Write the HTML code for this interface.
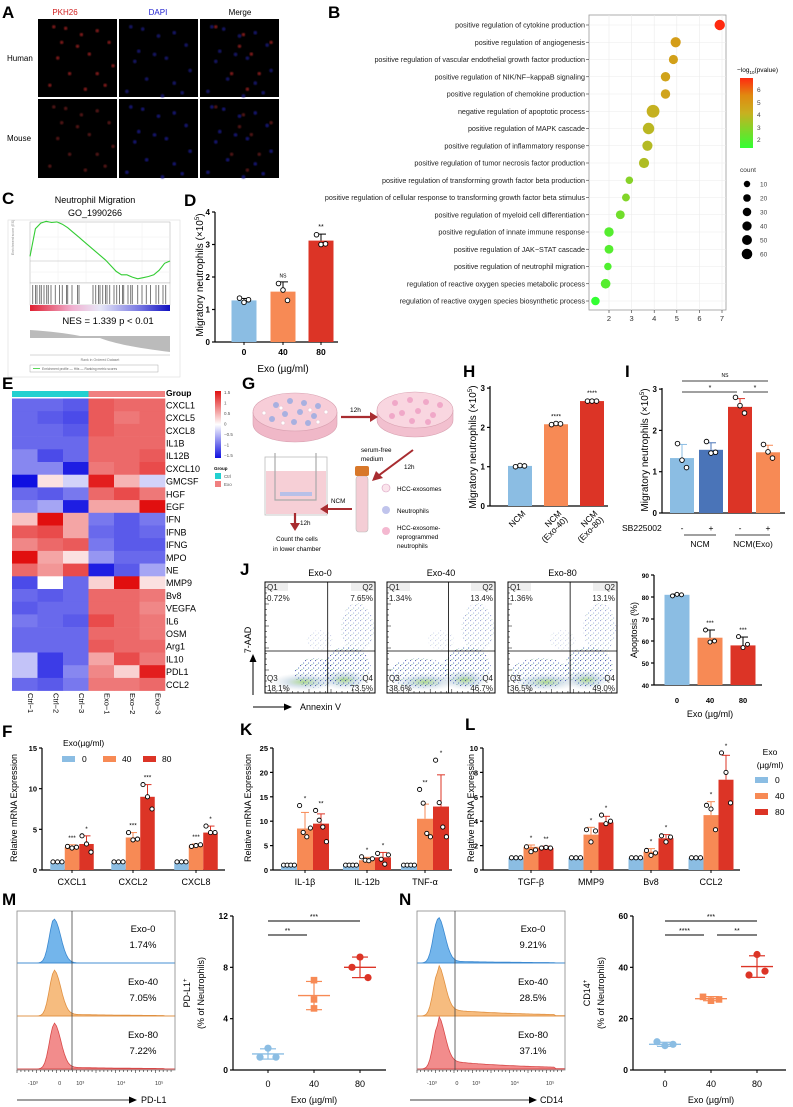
<!DOCTYPE html>
<html><head><meta charset="utf-8"><style>
html,body{margin:0;padding:0;background:#fff}
svg{display:block;font-family:"Liberation Sans",Arial,sans-serif}
</style></head><body>
<svg id="fig" width="793" height="1107" viewBox="0 0 793 1107" xmlns="http://www.w3.org/2000/svg">
<defs>
<linearGradient id="pgrad" x1="0" y1="1" x2="0" y2="0"><stop offset="0" stop-color="#33ff33"/><stop offset="0.5" stop-color="#c8b020"/><stop offset="0.75" stop-color="#e08a10"/><stop offset="1" stop-color="#ff2a10"/></linearGradient>
<linearGradient id="hgrad" x1="0" y1="1" x2="0" y2="0"><stop offset="0" stop-color="#1010e0"/><stop offset="0.5" stop-color="#ffffff"/><stop offset="1" stop-color="#e01010"/></linearGradient>
<linearGradient id="strip" x1="0" x2="1"><stop offset="0" stop-color="#e02030"/><stop offset="0.3" stop-color="#f0b0d0"/><stop offset="0.5" stop-color="#e8e8f8"/><stop offset="0.8" stop-color="#7070e0"/><stop offset="1" stop-color="#1010c0"/></linearGradient>
<pattern id="dots" width="5" height="5" patternUnits="userSpaceOnUse"><rect x="0" y="0" width="1.1" height="1.1" fill="#1a2a9a"/><rect x="3" y="2.5" width="1.1" height="1.1" fill="#2a5ab0"/><rect x="1.5" y="4" width="0.9" height="0.9" fill="#3a8a60"/></pattern>
<radialGradient id="cloud"><stop offset="0" stop-color="#9ad070" stop-opacity="0.8"/><stop offset="0.5" stop-color="#b0c8d8" stop-opacity="0.5"/><stop offset="1" stop-color="#d0d8e0" stop-opacity="0"/></radialGradient>
<radialGradient id="fade"><stop offset="0" stop-color="#fff" stop-opacity="1"/><stop offset="0.7" stop-color="#fff" stop-opacity="0.8"/><stop offset="1" stop-color="#fff" stop-opacity="0"/></radialGradient>
<mask id="cloudmask"><rect x="0" y="0" width="793" height="1107" fill="#000"/></mask>
<filter id="glow"><feGaussianBlur stdDeviation="0.8"/></filter>
</defs>

<g font-weight="bold" font-size="17" fill="#000">
<text x="2" y="18">A</text>
<text x="328" y="18">B</text>
<text x="2" y="204">C</text>
<text x="184" y="206">D</text>
<text x="2" y="389">E</text>
<text x="242" y="389">G</text>
<text x="463" y="377">H</text>
<text x="625" y="377">I</text>
<text x="240" y="575">J</text>
<text x="2" y="737">F</text>
<text x="240" y="735">K</text>
<text x="465" y="730">L</text>
<text x="2" y="905">M</text>
<text x="399" y="905">N</text>
</g>

<g id="panelA">
<text x="65" y="15" font-size="8" fill="#d02020" text-anchor="middle">PKH26</text>
<text x="158" y="15" font-size="8" fill="#2020d0" text-anchor="middle">DAPI</text>
<text x="240" y="15" font-size="8" fill="#000" text-anchor="middle">Merge</text>
<text x="7" y="61" font-size="8">Human</text>
<text x="7" y="141" font-size="8">Mouse</text>
</g>

<g font-size="6.5">
<text x="737" y="72">−log<tspan font-size="4.5" dy="2">10</tspan><tspan dy="-2">(pvalue)</tspan></text>
<rect x="740" y="78" width="13" height="70" fill="url(#pgrad)"/>
<text x="757" y="92" fill="#444">6</text><text x="757" y="105" fill="#444">5</text><text x="757" y="117" fill="#444">4</text><text x="757" y="130" fill="#444">3</text><text x="757" y="142" fill="#444">2</text>
<text x="740" y="172" fill="#333">count</text>
</g>

<g>
<text x="95" y="203" font-size="9" text-anchor="middle">Neutrophil Migration</text>
<text x="95" y="216" font-size="9" text-anchor="middle">GO_1990266</text>
<rect x="8" y="220" width="172" height="157" fill="#fff" stroke="#ddd" stroke-width="0.6"/>
<rect x="30" y="222" width="140" height="61" fill="#fff" stroke="#aaa" stroke-width="0.5"/>
<g stroke="#eee" stroke-width="0.5"><line x1="30" y1="237" x2="170" y2="237"/><line x1="30" y1="249" x2="170" y2="249"/><line x1="30" y1="272" x2="170" y2="272"/><line x1="58" y1="222" x2="58" y2="283"/><line x1="86" y1="222" x2="86" y2="283"/><line x1="114" y1="222" x2="114" y2="283"/><line x1="142" y1="222" x2="142" y2="283"/></g>
<line x1="30" y1="261" x2="170" y2="261" stroke="#bbb" stroke-width="0.5"/>
<text x="14" y="255" font-size="3.5" fill="#888" transform="rotate(-90 14 255)">Enrichment score (ES)</text>
<rect x="30" y="283" width="140" height="22" fill="#fff" stroke="#aaa" stroke-width="0.4"/>
<rect x="30" y="305" width="140" height="6" fill="url(#strip)"/>
<text x="108" y="324" font-size="9.5" text-anchor="middle">NES = 1.339  p &lt; 0.01</text>
<path d="M30 326 L30 330 Q60 332 80 336 L170 336 L170 352 Q120 346 100 338 L30 338 Z" fill="#bbb"/>
<line x1="30" y1="355" x2="170" y2="355" stroke="#999" stroke-width="0.4"/>
<text x="100" y="361" font-size="3.5" fill="#777" text-anchor="middle">Rank in Ordered Dataset</text>
<rect x="30" y="365" width="128" height="7" fill="none" stroke="#999" stroke-width="0.4"/>
<line x1="33" y1="368.5" x2="40" y2="368.5" stroke="#33cc33" stroke-width="0.8"/>
<text x="42" y="370" font-size="3.3" fill="#666">Enrichment profile — Hits    — Ranking metric scores</text>
</g>

<g>
<text x="203" y="275" font-size="10" text-anchor="middle" transform="rotate(-90 203 275)">Migratory neutrophils (×10<tspan font-size="6" dy="-4">5</tspan><tspan dy="4">)</tspan></text>
<text x="283" y="372" font-size="10" text-anchor="middle">Exo (µg/ml)</text>
</g>

<g>
<path d="M253 412 L253 424 A42 18 0 0 0 337 424 L337 412" fill="#f0b8c8" stroke="#d8a0b0" stroke-width="0.6"/>
<ellipse cx="295" cy="412" rx="42" ry="19" fill="#f7cdd8" stroke="#d8a0b0" stroke-width="0.6"/>
<g fill="#a8b0e0"><circle cx="276" cy="405" r="3"/><circle cx="290" cy="401" r="3"/><circle cx="304" cy="403" r="3"/><circle cx="318" cy="406" r="3"/><circle cx="285" cy="414" r="3"/><circle cx="300" cy="412" r="3"/><circle cx="314" cy="416" r="3"/><circle cx="272" cy="419" r="3"/><circle cx="294" cy="422" r="3"/><circle cx="308" cy="423" r="3"/></g>
<g fill="#fff" stroke="#e0b0c0" stroke-width="0.4"><circle cx="264" cy="413" r="2"/><circle cx="281" cy="408" r="2"/><circle cx="310" cy="410" r="2"/><circle cx="326" cy="412" r="2"/><circle cx="283" cy="423" r="2"/><circle cx="318" cy="422" r="2"/></g>
<path d="M377 410 L377 420 A38 17 0 0 0 453 420 L453 410" fill="#f2c0cf" stroke="#d8a0b0" stroke-width="0.6"/>
<ellipse cx="415" cy="410" rx="38" ry="18" fill="#f9d6e0" stroke="#d8a0b0" stroke-width="0.6"/>
<g fill="#f0a8c8"><circle cx="395" cy="403" r="3"/><circle cx="410" cy="400" r="3"/><circle cx="426" cy="402" r="3"/><circle cx="440" cy="405" r="3"/><circle cx="402" cy="413" r="3"/><circle cx="418" cy="411" r="3"/><circle cx="433" cy="415" r="3"/><circle cx="392" cy="416" r="3"/><circle cx="412" cy="421" r="3"/><circle cx="428" cy="422" r="3"/></g>
<line x1="341" y1="417" x2="372" y2="417" stroke="#a82c30" stroke-width="2.2"/><path d="M378 417 L370 412 L370 422 Z" fill="#a82c30"/>
<text x="350" y="412" font-size="6.5">12h</text>
<rect x="265" y="457" width="62" height="58" fill="#fff" stroke="#bbb" stroke-width="0.8"/>
<rect x="266" y="471" width="60" height="43" fill="#f6cfd6"/>
<path d="M275 453 L275 500 L316 500 L316 453" fill="none" stroke="#aaa" stroke-width="1.2"/>
<rect x="280" y="492" width="32" height="4" fill="#b8c0e8"/>
<rect x="356" y="476" width="12" height="56" rx="3" fill="#f4cdd5" stroke="#bbb" stroke-width="0.6"/>
<rect x="355" y="466" width="14" height="10" rx="2" fill="#d8782a"/>
<line x1="413" y1="450" x2="378" y2="476" stroke="#a82c30" stroke-width="2"/><path d="M372 481 L376 471 L383 478 Z" fill="#a82c30"/>
<text x="361" y="452" font-size="6.3">serum-free</text><text x="361" y="461" font-size="6.3">medium</text>
<text x="404" y="469" font-size="6.3">12h</text>
<line x1="352" y1="509" x2="326" y2="509" stroke="#a82c30" stroke-width="2"/><path d="M320 509 L328 504 L328 514 Z" fill="#a82c30"/>
<text x="331" y="503" font-size="6.3">NCM</text>
<line x1="295" y1="513" x2="295" y2="526" stroke="#a82c30" stroke-width="2.2"/><path d="M295 531 L290 523 L300 523 Z" fill="#a82c30"/>
<text x="300" y="525" font-size="6.3">12h</text>
<text x="297" y="541" font-size="6.3" text-anchor="middle">Count the cells</text>
<text x="297" y="551" font-size="6.3" text-anchor="middle">in lower chamber</text>
<circle cx="386" cy="488" r="4" fill="#fbe4ec" stroke="#d8a0c0" stroke-width="0.6"/><text x="397" y="491" font-size="6.3">HCC-exosomes</text>
<circle cx="386" cy="510" r="4" fill="#c0c4ec"/><text x="397" y="513" font-size="6.3">Neutrophils</text>
<circle cx="386" cy="531" r="4" fill="#f4b8d0"/><text x="397" y="530" font-size="6.3">HCC-exosome-</text><text x="397" y="539" font-size="6.3">reprogrammed</text><text x="397" y="548" font-size="6.3">neutrophils</text>
</g>

<text x="476" y="447" font-size="10" text-anchor="middle" transform="rotate(-90 476 447)">Migratory neutrophils (×10<tspan font-size="6" dy="-4">5</tspan><tspan dy="4">)</tspan></text>
<text x="648" y="450" font-size="10" text-anchor="middle" transform="rotate(-90 648 450)">Migratory neutrophils (×10<tspan font-size="6" dy="-4">5</tspan><tspan dy="4">)</tspan></text>
<g font-size="8.5">
<text x="622" y="531">SB225002</text>
<text x="682" y="531" text-anchor="middle">-</text><text x="711" y="531" text-anchor="middle">+</text><text x="740" y="531" text-anchor="middle">-</text><text x="768" y="531" text-anchor="middle">+</text>
<line x1="684" y1="535" x2="716" y2="535" stroke="#000" stroke-width="0.8"/><line x1="735" y1="535" x2="770" y2="535" stroke="#000" stroke-width="0.8"/>
<text x="700" y="547" text-anchor="middle">NCM</text><text x="753" y="547" text-anchor="middle">NCM(Exo)</text>
</g>

<g>
<line x1="253" y1="695" x2="253" y2="660" stroke="#000" stroke-width="1"/><path d="M253 654 L249.5 662 L256.5 662 Z"/>
<text x="251" y="640" font-size="9" text-anchor="middle" transform="rotate(-90 251 640)">7-AAD</text>
<line x1="253" y1="707" x2="285" y2="707" stroke="#000" stroke-width="1"/><path d="M292 707 L284 703.5 L284 710.5 Z"/>
<text x="300" y="710" font-size="9">Annexin V</text>
<text x="637" y="630" font-size="9" text-anchor="middle" transform="rotate(-90 637 630)">Apoptosis (%)</text>
<text x="710" y="717" font-size="9" text-anchor="middle">Exo (µg/ml)</text>
</g>

<text x="17" y="808" font-size="9" text-anchor="middle" transform="rotate(-90 17 808)">Relative mRNA Expression</text>
<text x="251" y="808" font-size="9" text-anchor="middle" transform="rotate(-90 251 808)">Relative mRNA Expression</text>
<text x="474" y="808" font-size="9" text-anchor="middle" transform="rotate(-90 474 808)">Relative mRNA Expression</text>
<g font-size="8.5">
<text x="63" y="746">Exo(µg/ml)</text>
<rect x="62" y="756" width="13" height="6" fill="#8bbde3"/><text x="82" y="762">0</text>
<rect x="103" y="756" width="13" height="6" fill="#f78a55"/><text x="122" y="762">40</text>
<rect x="143" y="756" width="13" height="6" fill="#dc3426"/><text x="162" y="762">80</text>
</g>
<g font-size="8.5">
<text x="770" y="755" text-anchor="middle">Exo</text><text x="770" y="768" text-anchor="middle">(µg/ml)</text>
<rect x="755" y="777" width="13" height="6" fill="#8bbde3"/><text x="775" y="783">0</text>
<rect x="755" y="793" width="13" height="6" fill="#f78a55"/><text x="775" y="799">40</text>
<rect x="755" y="809" width="13" height="6" fill="#dc3426"/><text x="775" y="815">80</text>
</g>

<text x="190" y="993" font-size="9" text-anchor="middle" transform="rotate(-90 190 993)">PD-L1<tspan font-size="6" dy="-3">+</tspan></text>
<text x="204" y="993" font-size="9" text-anchor="middle" transform="rotate(-90 204 993)">(% of Neutrophils)</text>
<text x="314" y="1103" font-size="9" text-anchor="middle">Exo (µg/ml)</text>
<text x="590" y="993" font-size="9" text-anchor="middle" transform="rotate(-90 590 993)">CD14<tspan font-size="6" dy="-3">+</tspan></text>
<text x="604" y="993" font-size="9" text-anchor="middle" transform="rotate(-90 604 993)">(% of Neutrophils)</text>
<text x="711" y="1103" font-size="9" text-anchor="middle">Exo (µg/ml)</text>
<line x1="17" y1="1100" x2="130" y2="1100" stroke="#000" stroke-width="0.8"/><path d="M137 1100 L129 1096.5 L129 1103.5 Z"/>
<text x="141" y="1103" font-size="9">PD-L1</text>
<line x1="410" y1="1100" x2="530" y2="1100" stroke="#000" stroke-width="0.8"/><path d="M537 1100 L529 1096.5 L529 1103.5 Z"/>
<text x="540" y="1103" font-size="9">CD14</text>
</svg>

<script>
const bTerms=["positive regulation of cytokine production","positive regulation of angiogenesis","positive regulation of vascular endothelial growth factor production","positive regulation of NIK/NF−kappaB signaling","positive regulation of chemokine production","negative regulation of apoptotic process","positive regulation of MAPK cascade","positive regulation of inflammatory response","positive regulation of tumor necrosis factor production","positive regulation of transforming growth factor beta production","positive regulation of cellular response to transforming growth factor beta stimulus","positive regulation of myeloid cell differentiation","positive regulation of innate immune response","positive regulation of JAK−STAT cascade","positive regulation of neutrophil migration","regulation of reactive oxygen species metabolic process","regulation of reactive oxygen species biosynthetic process"];
const bX=[6.9,4.95,4.85,4.5,4.5,3.95,3.75,3.7,3.55,2.9,2.75,2.5,2.0,2.0,1.95,1.85,1.4];
const bLogP=[6.8,4.8,4.7,4.6,4.6,4.1,3.9,3.8,3.7,3.0,2.9,2.6,2.1,2.1,2.0,2.1,1.5];
const bCount=[30,28,20,22,22,55,40,28,28,10,12,18,22,18,10,24,16];
const bXTicks=[2,3,4,5,6,7];
const bCountLegend=[10,20,30,40,50,60];

const gseaES=[0.04,0.28,0.33,0.345,0.335,0.34,0.32,0.29,0.25,0.21,0.17,0.13,0.09,0.05,0.01,-0.04,-0.09,-0.12,-0.12,-0.14,-0.155,-0.145,-0.135,-0.12,-0.08,-0.02,0.0];
const gseaHits=[0.02,0.04,0.05,0.07,0.08,0.1,0.12,0.13,0.15,0.18,0.21,0.23,0.26,0.27,0.3,0.34,0.35,0.45,0.47,0.49,0.5,0.52,0.54,0.55,0.57,0.6,0.62,0.64,0.66,0.67,0.7,0.72,0.73,0.77,0.8,0.83,0.86,0.9,0.92,0.95,0.97];

const dCats=["0","40","80"];
const dMeans=[1.28,1.55,3.12];
const dSD=[0.06,0.3,0.2];
const dPts=[[1.35,1.22,1.3],[1.8,1.6,1.28],[3.3,3.0,3.02]];
const dStars=["","NS","**"];

const heatGenes=["CXCL1","CXCL5","CXCL8","IL1B","IL12B","CXCL10","GMCSF","HGF","EGF","IFN","IFNB","IFNG","MPO","NE","MMP9","Bv8","VEGFA","IL6","OSM","Arg1","IL10","PDL1","CCL2"];
const heatSamples=["Ctrl−1","Ctrl−2","Ctrl−3","Exo−1","Exo−2","Exo−3"];
const heatVals=[[-1,-1,-1.1,1.1,1.0,1.0],[-1,-1.1,-1.2,1.1,0.9,1.0],[-1,-1,-1.1,1.1,1.0,1.0],[-1,-1,-1,1.0,1.0,1.0],[-0.8,-1.2,-1,1.0,1.0,1.1],[-0.8,-0.8,-1.5,0.9,1.0,1.2],[-1.6,0.2,-0.3,1.5,0.5,-0.3],[-1,-1.1,-0.9,1.0,1.2,0.9],[-0.8,-0.6,-1.5,0.6,0.6,1.6],[0.4,1.6,0.6,-0.9,-1.1,-0.9],[1.1,1.2,0.6,-1,-1.1,-1],[0.8,1.0,1.1,-0.9,-1.1,-1.1],[1.6,0.6,0.2,-0.7,-1,-1],[1.0,0.7,1.2,-1.5,-1.1,-0.6],[-1.2,0,-1,0.3,1.6,0.2],[-1,-1.1,-1,1.0,1.0,0.9],[-1.1,-1,-1,1.0,1.0,0.8],[-0.9,-1,-1.1,1.2,1.0,0.9],[-1,-1,-1,1.0,1.0,0.9],[-1,-1,-1,1.1,1.0,1.0],[-0.4,-1.3,-1,0.6,1.2,0.9],[-0.4,-1.3,-0.8,0.8,0.3,1.5],[-1,-1.1,-0.9,0.9,0.9,1.0]];
const heatLegendTicks=[1.5,1,0.5,0,-0.5,-1,-1.5];

const hCats=["NCM","NCM (Exo-40)","NCM (Exo-80)"];
const hMeans=[1.02,2.08,2.67];
const hPts=[[1.0,1.03,1.02],[2.07,2.1,2.09],[2.67,2.67,2.67]];
const hStars=["","****","****"];

const iMeans=[1.33,1.53,2.57,1.47];
const iSD=[0.33,0.17,0.2,0.17];
const iPts=[[1.68,1.28,1.1],[1.73,1.45,1.47],[2.8,2.6,2.42],[1.66,1.48,1.33]];

const jQuads=[["0.72%","7.65%","18.1%","73.5%"],["1.34%","13.4%","38.6%","46.7%"],["1.36%","13.1%","36.5%","49.0%"]];
const jTitles=["Exo-0","Exo-40","Exo-80"];
const apoMeans=[81,61.5,58];
const apoSD=[0.3,3.5,3.8];
const apoPts=[[80.5,81.2,81],[65,59.5,60],[62,57,58.5]];
const apoStars=["","***","***"];

const fGenes=["CXCL1","CXCL2","CXCL8"];
const fMeans=[[1,2.8,3.2],[1,4.0,9.0],[1,3.0,4.6]];
const fSD=[[0.05,0.3,1.0],[0.05,0.6,1.5],[0.05,0.2,0.8]];
const fPts=[[[1,1,1],[2.9,2.7,2.8],[4.2,3.2,2.2]],[[1,1,1],[4.6,3.7,3.8],[10.5,9.0,7.5]],[[1,1,1],[2.9,3.0,3.1],[5.4,4.6,4.6]]];
const fStars=[["","***","*"],["","***","***"],["","***","*"]];

const kGenes=["IL-1β","IL-12b","TNF-α"];
const kMeans=[[1,8.5,9.5],[1,2.0,2.6],[1,10.5,13]];
const kSD=[[0.05,3.3,2.0],[0.05,0.6,1.0],[0.05,3.0,6.5]];
const kPts=[[[1,1,1,1],[13.2,7.7,6.8,8.6],[12.2,10.2,8.8,5.8]],[[1,1,1,1],[2.7,2.0,1.9,2.3],[3.4,2.2,1.2,3.1]],[[1,1,1,1],[16.5,13.7,7.5,6.8],[22.5,13.8,8.8,6.8]]];
const kStars=[["","*","**"],["","*","*"],["","**","*"]];

const lGenes=["TGF-β","MMP9","Bv8","CCL2"];
const lMeans=[[1,1.9,1.8],[1,2.9,3.9],[1,1.5,2.6],[1,4.5,7.4]];
const lSD=[[0.05,0.15,0.15],[0.05,0.6,0.5],[0.05,0.25,0.3],[0.05,1.1,2.0]];
const lPts=[[[1,1,1],[1.9,1.5,1.65],[1.8,1.85,1.8]],[[1,1,1],[3.3,2.3,3.2],[4.5,3.8,4.0]],[[1,1,1],[1.6,1.2,1.4],[2.8,2.3,2.7]],[[1,1,1],[5.3,5.0,3.3],[9.6,8.0,5.5]]];
const lStars=[["","*","**"],["","*","*"],["","*","*"],["","*","*"]];

const mLabels=["Exo-0","Exo-40","Exo-80"];
const mPct=["1.74%","7.05%","7.22%"];
const mVals=[[1.7,1.0,1.0],[7.0,5.5,4.8],[8.8,8.0,7.2]];
const mMeans=[1.25,5.8,8.0];
const mSD=[0.4,1.1,0.8];
const nPct=["9.21%","28.5%","37.1%"];
const nVals=[[9.5,11,10],[27,28.5,27.5],[45,37,38.5]];
const nMeans=[10,27.8,40.3];
const nSD=[0.8,0.8,4.2];

const NS='http://www.w3.org/2000/svg';
const svg=document.getElementById('fig');
function el(tag,a,p){const e=document.createElementNS(NS,tag);for(const k in a)e.setAttribute(k,a[k]);(p||svg).appendChild(e);return e;}
function tx(x,y,s,a,p){const e=el('text',Object.assign({x:x,y:y},a||{}),p);e.textContent=s;return e;}
const C0='#8bbde3',C40='#f78a55',C80='#dc3426',CDB='#4a74b8';

function yAxis(x,yTop,yBot,ticks,sc,fs,name){
  const g=el('g',{});
  
  
  el('line',{x1:x,y1:yTop,x2:x,y2:yBot,stroke:'#000','stroke-width':1.2},g);
  ticks.forEach(t=>{const y=sc(t);el('line',{x1:x-3,y1:y,x2:x,y2:y,stroke:'#000','stroke-width':1.2},g);
    const lab=tx(x-5,y+3,String(t),{'font-size':fs,'text-anchor':'end','font-weight':'bold'},g);
    
    });
  return g;
}
function errBar(x,yM,yT,col,w,p){el('line',{x1:x,y1:yM,x2:x,y2:yT,stroke:col,'stroke-width':1},p);el('line',{x1:x-w,y1:yT,x2:x+w,y2:yT,stroke:col,'stroke-width':1},p);}
function pts(x,vals,sc,fill,p,r){const n=vals.length;vals.forEach((v,i)=>{const c=el('circle',{cx:x+(i-(n-1)/2)*(n>3?3.6:4.5),cy:sc(v),r:r||2.3,fill:fill,stroke:'#000','stroke-width':0.9},p);
  
  });}

// A
const aCols=[[38,117],[119,198],[200,279]];
const aRows=[[19,97],[99,178]];
const aCells=[[0.15,0.1],[0.3,0.12],[0.5,0.2],[0.7,0.15],[0.85,0.3],[0.2,0.5],[0.6,0.45],[0.9,0.6],[0.35,0.7],[0.1,0.85],[0.55,0.9],[0.8,0.85],[0.45,0.35],[0.25,0.3],[0.7,0.7]];
aRows.forEach((r,ri)=>aCols.forEach((c,ci)=>{
  const im=el('rect',{x:c[0],y:r[0],width:c[1]-c[0],height:r[1]-r[0],fill:'#000'});
  
  
  aCells.forEach((p,k)=>{
    const w=c[1]-c[0],h=r[1]-r[0];
    const red=ci!==1&&(k%2===0||ci===0), blue=ci!==0;
    if(blue) el('circle',{cx:c[0]+p[0]*w,cy:r[0]+((p[1]+0.13*k/15)%1)*h,r:1.8,fill:ri?'#2020a0':'#202090','fill-opacity':0.7,filter:'url(#glow)'});
    if(red) el('circle',{cx:c[0]+((p[0]+0.05)%1)*w,cy:r[0]+p[1]*h,r:1.7,fill:ri?'#701818':'#a82020','fill-opacity':0.75,filter:'url(#glow)'});
  });
}));

// B
(function(){
  const x0=589,x1=726,yT=15,yB=310;
  const sx=v=>609+(v-2)*22.6;
  const sy=i=>25+i*17.25;
  const box=el('rect',{x:x0,y:yT,width:x1-x0,height:yB-yT,fill:'#fff',stroke:'#999','stroke-width':0.8});
  
  
  bXTicks.forEach(t=>{el('line',{x1:sx(t),y1:yT,x2:sx(t),y2:yB,stroke:'#ebebeb','stroke-width':0.6});
    el('line',{x1:sx(t),y1:yB,x2:sx(t),y2:yB+3,stroke:'#333','stroke-width':0.6});
    const l=tx(sx(t),yB+11,String(t),{'font-size':7.5,'text-anchor':'middle',fill:'#333'});
    
    });
  function col(v){const f=Math.max(0,Math.min(1,(v-1.5)/5.3));
    const stops=[[0,[51,255,51]],[0.5,[200,176,32]],[0.75,[224,138,16]],[1,[255,42,16]]];
    for(let i=1;i<stops.length;i++){if(f<=stops[i][0]){const a=stops[i-1],b=stops[i],t=(f-a[0])/(b[0]-a[0]);return 'rgb('+a[1].map((c,j)=>Math.round(c+(b[1][j]-c)*t)).join(',')+')';}}return 'rgb(255,42,16)';}
  const rad=c=>1.8+Math.sqrt(c)*0.62;
  bTerms.forEach((t,i)=>{
    el('line',{x1:x0,y1:sy(i),x2:x1,y2:sy(i),stroke:'#ebebeb','stroke-width':0.6});
    el('line',{x1:x0-3,y1:sy(i),x2:x0,y2:sy(i),stroke:'#333','stroke-width':0.6});
    const l=tx(x0-4,sy(i)+2.5,t,{'font-size':7.2,'text-anchor':'end',fill:'#222'});
    
    
    const d=el('circle',{cx:sx(bX[i]),cy:sy(i),r:rad(bCount[i]),fill:col(bLogP[i])});
    
    
  });
  bCountLegend.forEach((c,i)=>{const y=184+i*14;
    const d=el('circle',{cx:747,cy:y,r:1.8+Math.sqrt(c)*0.45,fill:'#000'});
    
    
    tx(760,y+2.5,String(c),{'font-size':6.5,fill:'#444'});});
})();

// C
(function(){
  const sx=f=>30+f*140, sy=v=>261-v*115;
  const d=gseaES.map((v,i)=>(i?'L':'M')+sx(i/(gseaES.length-1)).toFixed(1)+' '+sy(v).toFixed(1)).join(' ');
  const p=el('path',{d:d,fill:'none',stroke:'#33cc33','stroke-width':1.1});
  
  
  gseaHits.forEach(h=>{const l=el('line',{x1:sx(h),y1:285,x2:sx(h),y2:304,stroke:'#222','stroke-width':0.6});
    
    });
})();

// D
(function(){
  const sy=v=>342-v*32.5, xs=[244,283,321], cols=[C0,C40,C80];
  yAxis(215,212,342,[0,1,2,3,4],sy,8,'d-y-axis');
  el('line',{x1:215,y1:342,x2:338,y2:342,stroke:'#000','stroke-width':1.2});
  dCats.forEach((c,i)=>{
    const b=el('rect',{x:xs[i]-12.5,y:sy(dMeans[i]),width:25,height:342-sy(dMeans[i]),fill:cols[i]});
    
    
    errBar(xs[i],sy(dMeans[i]),sy(dMeans[i]+dSD[i]),'#000',5);
    pts(xs[i],dPts[i],sy,'#fff');
    if(dStars[i])tx(xs[i],sy(Math.max(...dPts[i]))-6,dStars[i],{'font-size':dStars[i]==='NS'?5:7,'text-anchor':'middle'});
    el('line',{x1:xs[i],y1:342,x2:xs[i],y2:345,stroke:'#000'});
    const l=tx(xs[i],355,c,{'font-size':8.5,'text-anchor':'middle','font-weight':'bold'});
    
    
  });
})();

// E
(function(){
  const x0=12,cw=25.5,y0=398.5,rh=12.7;
  function hc(v){v=Math.max(-1.6,Math.min(1.6,v))/1.6;
    if(v>=0)return 'rgb('+Math.round(255-(255-225)*v)+','+Math.round(255-240*v)+','+Math.round(255-240*v)+')';
    v=-v;return 'rgb('+Math.round(255-240*v)+','+Math.round(255-240*v)+','+Math.round(255-(255-225)*v)+')';}
  heatSamples.forEach((s,j)=>{
    const g=el('rect',{x:x0+j*cw,y:391,width:cw,height:6,fill:j<3?'#22d0d0':'#f08080'});
    
    
    const x=x0+j*cw+cw/2+3;
    const l=tx(x,693,s,{'font-size':7.5,transform:'rotate(90 '+x+' 693)'});
    
    
  });
  tx(166,396,'Group',{'font-size':8.5,'font-weight':'bold'});
  heatGenes.forEach((g,i)=>{
    heatVals[i].forEach((v,j)=>{
      const c=el('rect',{x:x0+j*cw,y:y0+i*rh,width:cw+0.3,height:rh+0.3,fill:hc(v)});
      
      
    });
    const l=tx(166,y0+i*rh+rh/2+3.5,g,{'font-size':9});
    
    
  });
  const cb=el('rect',{x:215,y:391,width:6,height:67,fill:'url(#hgrad)'});
  
  
  heatLegendTicks.forEach((t,i)=>tx(224,394+i*10.5,String(t).replace('-','−'),{'font-size':4.5,fill:'#555'}));
  tx(214,470,'Group',{'font-size':4.5,'font-weight':'bold'});
  el('rect',{x:215,y:473,width:6,height:6,fill:'#22d0d0'});tx(224,478,'Ctrl',{'font-size':4.5,fill:'#555'});
  el('rect',{x:215,y:481,width:6,height:6,fill:'#f08080'});tx(224,486,'Exo',{'font-size':4.5,fill:'#555'});
})();

// H
(function(){
  const sy=v=>506-v*39.3, xs=[520,556,592], cols=[C0,C40,C80];
  yAxis(490,386,506,[0,1,2,3],sy,8,'h-y-axis');
  el('line',{x1:490,y1:506,x2:608,y2:506,stroke:'#000','stroke-width':1.2});
  hCats.forEach((c,i)=>{
    const b=el('rect',{x:xs[i]-12,y:sy(hMeans[i]),width:24,height:506-sy(hMeans[i]),fill:cols[i]});
    
    
    pts(xs[i],hPts[i],sy,'#fff');
    if(hStars[i])tx(xs[i],sy(hMeans[i])-6,hStars[i],{'font-size':6.5,'text-anchor':'middle'});
    const parts=c.split(' ');
    const l=tx(xs[i]+6,514,parts[0],{'font-size':8.5,'text-anchor':'end',transform:'rotate(-45 '+(xs[i]+6)+' 514)'});
    
    
    if(parts[1])tx(xs[i]+12,520,parts[1],{'font-size':8.5,'text-anchor':'end',transform:'rotate(-45 '+(xs[i]+12)+' 520)'});
  });
})();

// I
(function(){
  const sy=v=>513-v*41.3, xs=[682,711,740,768], cols=[C0,CDB,C80,C40];
  yAxis(662,388,513,[0,1,2,3],sy,8,'i-y-axis');
  el('line',{x1:662,y1:513,x2:785,y2:513,stroke:'#000','stroke-width':1.2});
  iMeans.forEach((m,i)=>{
    const b=el('rect',{x:xs[i]-12,y:sy(m),width:24,height:513-sy(m),fill:cols[i]});
    
    
    errBar(xs[i],sy(m),sy(m+iSD[i]),cols[i],5);
    pts(xs[i],iPts[i],sy,'#fff');
  });
  el('line',{x1:682,y1:381,x2:768,y2:381,stroke:'#000','stroke-width':0.8});tx(725,377,'NS',{'font-size':5,'text-anchor':'middle'});
  el('line',{x1:682,y1:392,x2:737,y2:392,stroke:'#000','stroke-width':0.8});tx(710,390,'*',{'font-size':7,'text-anchor':'middle'});
  el('line',{x1:743,y1:392,x2:768,y2:392,stroke:'#000','stroke-width':0.8});tx(755,390,'*',{'font-size':7,'text-anchor':'middle'});
})();

// J
(function(){
  const boxes=[[265,375],[387,495],[508,617]];
  boxes.forEach((b,k)=>{
    const x0=b[0],x1=b[1],y0=582,y1=693,w=x1-x0;
    const t=tx((x0+x1)/2,576,jTitles[k],{'font-size':9,'text-anchor':'middle'});
    
    
    const g=el('g',{});
    
    
    el('rect',{x:x0,y:y0,width:w,height:y1-y0,fill:'#fff'},g);
    el('rect',{x:x0+1,y:y0+1,width:22,height:8,fill:'#eee'},g);
    el('rect',{x:x1-24,y:y0+1,width:23,height:8,fill:'#eee'},g);
    const vx=x0+w*0.57, hy=651;
    const spread=k===0?0.55:1;
    el('ellipse',{cx:x0+w*0.35,cy:682,rx:w*0.3,ry:9,fill:'url(#cloud)'},g);
    el('ellipse',{cx:x0+w*0.72,cy:680,rx:w*0.22,ry:10,fill:'url(#cloud)'},g);
    el('ellipse',{cx:x0+w*(0.45-0.15*(k>0)),cy:673,rx:w*0.2*spread+8,ry:15,fill:'url(#dots)',opacity:0.7},g);
    el('ellipse',{cx:x0+w*0.74,cy:667,rx:w*0.22,ry:20,fill:'url(#dots)',opacity:0.75},g);
    el('ellipse',{cx:x0+w*0.84,cy:628,rx:w*0.15,ry:25,fill:'url(#dots)',opacity:0.4},g);
    el('ellipse',{cx:x0+w*0.5,cy:640,rx:w*0.12,ry:10,fill:'url(#dots)',opacity:0.2},g);
    el('rect',{x:x0,y:y0,width:w,height:y1-y0,fill:'none',stroke:'#000','stroke-width':1},g);
    el('line',{x1:vx,y1:y0,x2:vx,y2:y1,stroke:'#000','stroke-width':0.8},g);
    el('line',{x1:x0,y1:hy,x2:x1,y2:hy,stroke:'#000','stroke-width':0.8},g);
    for(let i=0;i<20;i++){el('line',{x1:x0+i*w/20,y1:y1,x2:x0+i*w/20,y2:y1-(i%4?2:4),stroke:'#000','stroke-width':0.5},g);
      el('line',{x1:x0,y1:y0+i*5.5,x2:x0+(i%4?2:4),y2:y0+i*5.5,stroke:'#000','stroke-width':0.5},g);}
    const q=jQuads[k],fs={'font-size':8,fill:'#222'};
    tx(x0+2,y0+8,'Q1',fs,g);tx(x0+2,y0+19,q[0],fs,g);
    tx(x1-2,y0+8,'Q2',Object.assign({'text-anchor':'end'},fs),g);tx(x1-2,y0+19,q[1],Object.assign({'text-anchor':'end'},fs),g);
    tx(x0+2,y1-12,'Q3',fs,g);tx(x0+2,y1-2,q[2],fs,g);
    tx(x1-2,y1-12,'Q4',Object.assign({'text-anchor':'end'},fs),g);tx(x1-2,y1-2,q[3],Object.assign({'text-anchor':'end'},fs),g);
  });
  const sy=v=>685-(v-40)*2.2, xs=[677,710,743], cols=[C0,C40,C80];
  yAxis(654,575,685,[40,50,60,70,80,90],sy,6.5,'apoptosis-y-axis');
  el('line',{x1:654,y1:685,x2:762,y2:685,stroke:'#000','stroke-width':1.2});
  apoMeans.forEach((m,i)=>{
    const b=el('rect',{x:xs[i]-12.5,y:sy(m),width:25,height:685-sy(m),fill:cols[i]});
    
    
    errBar(xs[i],sy(m),sy(m+apoSD[i]),'#000',5);
    pts(xs[i],apoPts[i],sy,'#fff',null,2);
    if(apoStars[i])tx(xs[i],sy(m+apoSD[i])-5,apoStars[i],{'font-size':6.5,'text-anchor':'middle'});
    tx(xs[i],703,['0','40','80'][i],{'font-size':7.5,'text-anchor':'middle','font-weight':'bold'});
  });
})();

function grouped(ax,y0,yTop,maxV,ticks,centers,labels,means,sds,points,stars,bw,name,xEnd){
  const sy=v=>y0-v*(y0-yTop)/maxV, cols=[C0,C40,C80];
  yAxis(ax,yTop,y0,ticks,sy,7.5,name+'-y-axis');
  el('line',{x1:ax,y1:y0,x2:xEnd,y2:y0,stroke:'#000','stroke-width':1.2});
  labels.forEach((g,gi)=>{
    [0,1,2].forEach(s=>{
      const x=centers[gi]+(s-1)*bw, m=means[gi][s];
      const b=el('rect',{x:x-bw/2,y:sy(m),width:bw,height:y0-sy(m),fill:cols[s]});
      
      
      errBar(x,sy(m),sy(m+sds[gi][s]),cols[s],4);
      pts(x,points[gi][s],sy,'#fff',null,2.1);
      if(stars[gi][s])tx(x,sy(Math.max(m+sds[gi][s],...points[gi][s]))-5,stars[gi][s],{'font-size':6.5,'text-anchor':'middle'});
    });
    el('line',{x1:centers[gi],y1:y0,x2:centers[gi],y2:y0+3,stroke:'#000'});
    const l=tx(centers[gi],y0+15,g,{'font-size':9,'text-anchor':'middle'});
    
    
  });
}
grouped(42,870,748,15,[0,5,10,15],[72,133,196],fGenes,fMeans,fSD,fPts,fStars,14.5,'f',225);
grouped(273,870,748,25,[0,5,10,15,20,25],[305,367,425],kGenes,kMeans,kSD,kPts,kStars,16,'k',452);
grouped(483,870,748,10,[0,2,4,6,8,10],[531,591,651,711],lGenes,lMeans,lSD,lPts,lStars,15,'l',740);

function hist(x0,x1,vx,labels,pcts,tailAmp,peakX,name){
  const y0=911,rh=53,cols=[['#5aa8e8','#3a88d0'],['#f4b068','#e09040'],['#f07878','#d84848']];
  labels.forEach((lab,i)=>{
    const base=y0+rh*(i+1)-1, w=x1-x0;
    let d='M'+x0+' '+base;
    for(let k=0;k<=80;k++){const x=x0+k*w/80;const z=(x-peakX)/6;
      const h=44*Math.exp(-z*z/(z<0?1.2:2.5))+tailAmp[i]*(x>peakX?Math.exp(-(x-peakX)/(w*0.5)):0)*(x<x1-10?1:0.2);
      d+=' L'+x.toFixed(1)+' '+(base-h).toFixed(1);}
    d+=' L'+x1+' '+base+' Z';
    const p=el('path',{d:d,fill:cols[i][0],'fill-opacity':0.85,stroke:cols[i][1],'stroke-width':0.8});
    
    
    el('line',{x1:x0,y1:base,x2:x1,y2:base,stroke:cols[i][1],'stroke-width':0.8});
    tx(x1-32,y0+rh*i+21,lab,{'font-size':9.5,'text-anchor':'middle'});
    tx(x1-32,y0+rh*i+37,pcts[i],{'font-size':9.5,'text-anchor':'middle'});
  });
  const fr=el('rect',{x:x0,y:y0,width:x1-x0,height:rh*3,fill:'none',stroke:'#888','stroke-width':0.8});
  
  
  el('line',{x1:vx,y1:y0,x2:vx,y2:y0+rh*3,stroke:'#444','stroke-width':0.8});
  const tl=['-10³','0','10³','10⁴','10⁵'],tp=[0.1,0.27,0.4,0.66,0.9];
  tl.forEach((t,i)=>tx(x0+(x1-x0)*tp[i],1085,t,{'font-size':5.5,'text-anchor':'middle',fill:'#333'}));
  for(let i=0;i<40;i++)el('line',{x1:x0+i*(x1-x0)/40,y1:y0+rh*3,x2:x0+i*(x1-x0)/40,y2:y0+rh*3+(i%5?2:3),stroke:'#000','stroke-width':0.5});
}
hist(17,175,72,mLabels,mPct,[0,2,2],54,'m');
hist(417,565,455,mLabels,nPct,[2,7,9],438,'n');

function dotPlot(ax,maxV,ticks,xs,vals,means,sds,name,sigs){
  const y0=1070,yTop=916,sy=v=>y0-v*(y0-yTop)/maxV,cols=[C0,C40,C80];
  yAxis(ax,yTop,y0,ticks,sy,8.5,name+'-y-axis');
  el('line',{x1:ax,y1:y0,x2:ax+153,y2:y0,stroke:'#000','stroke-width':1.2});
  vals.forEach((vs,i)=>{
    el('line',{x1:xs[i]-16,y1:sy(means[i]),x2:xs[i]+16,y2:sy(means[i]),stroke:cols[i],'stroke-width':1.4});
    el('line',{x1:xs[i],y1:sy(means[i]-sds[i]),x2:xs[i],y2:sy(means[i]+sds[i]),stroke:cols[i],'stroke-width':1.2});
    [means[i]-sds[i],means[i]+sds[i]].forEach(v=>el('line',{x1:xs[i]-8,y1:sy(v),x2:xs[i]+8,y2:sy(v),stroke:cols[i],'stroke-width':1.2}));
    vs.forEach((v,k)=>{const x=xs[i]+[0,-8,8][k]*(i===1&&name==='m'?0:1);
      let m;
      if(i===1)m=el('rect',{x:x-3.3,y:sy(v)-3.3,width:6.6,height:6.6,fill:cols[i]});
      else m=el('circle',{cx:x,cy:sy(v),r:3.6,fill:cols[i]});
      
      });
    el('line',{x1:xs[i],y1:y0,x2:xs[i],y2:y0+3,stroke:'#000'});
    tx(xs[i],1087,['0','40','80'][i],{'font-size':9,'text-anchor':'middle'});
  });
  sigs.forEach(s=>{el('line',{x1:s[0],y1:s[2],x2:s[1],y2:s[2],stroke:'#000','stroke-width':0.9});
    tx((s[0]+s[1])/2,s[2]-2,s[3],{'font-size':7,'text-anchor':'middle'});});
}
dotPlot(233,12,[0,4,8,12],[268,314,360],mVals,mMeans,mSD,'m',[[268,360,921,'***'],[268,307,935,'**']]);
dotPlot(633,60,[0,20,40,60],[665,711,757],nVals,nMeans,nSD,'n',[[665,757,921,'***'],[665,704,935,'****'],[717,757,935,'**']]);
</script>
</body></html>
